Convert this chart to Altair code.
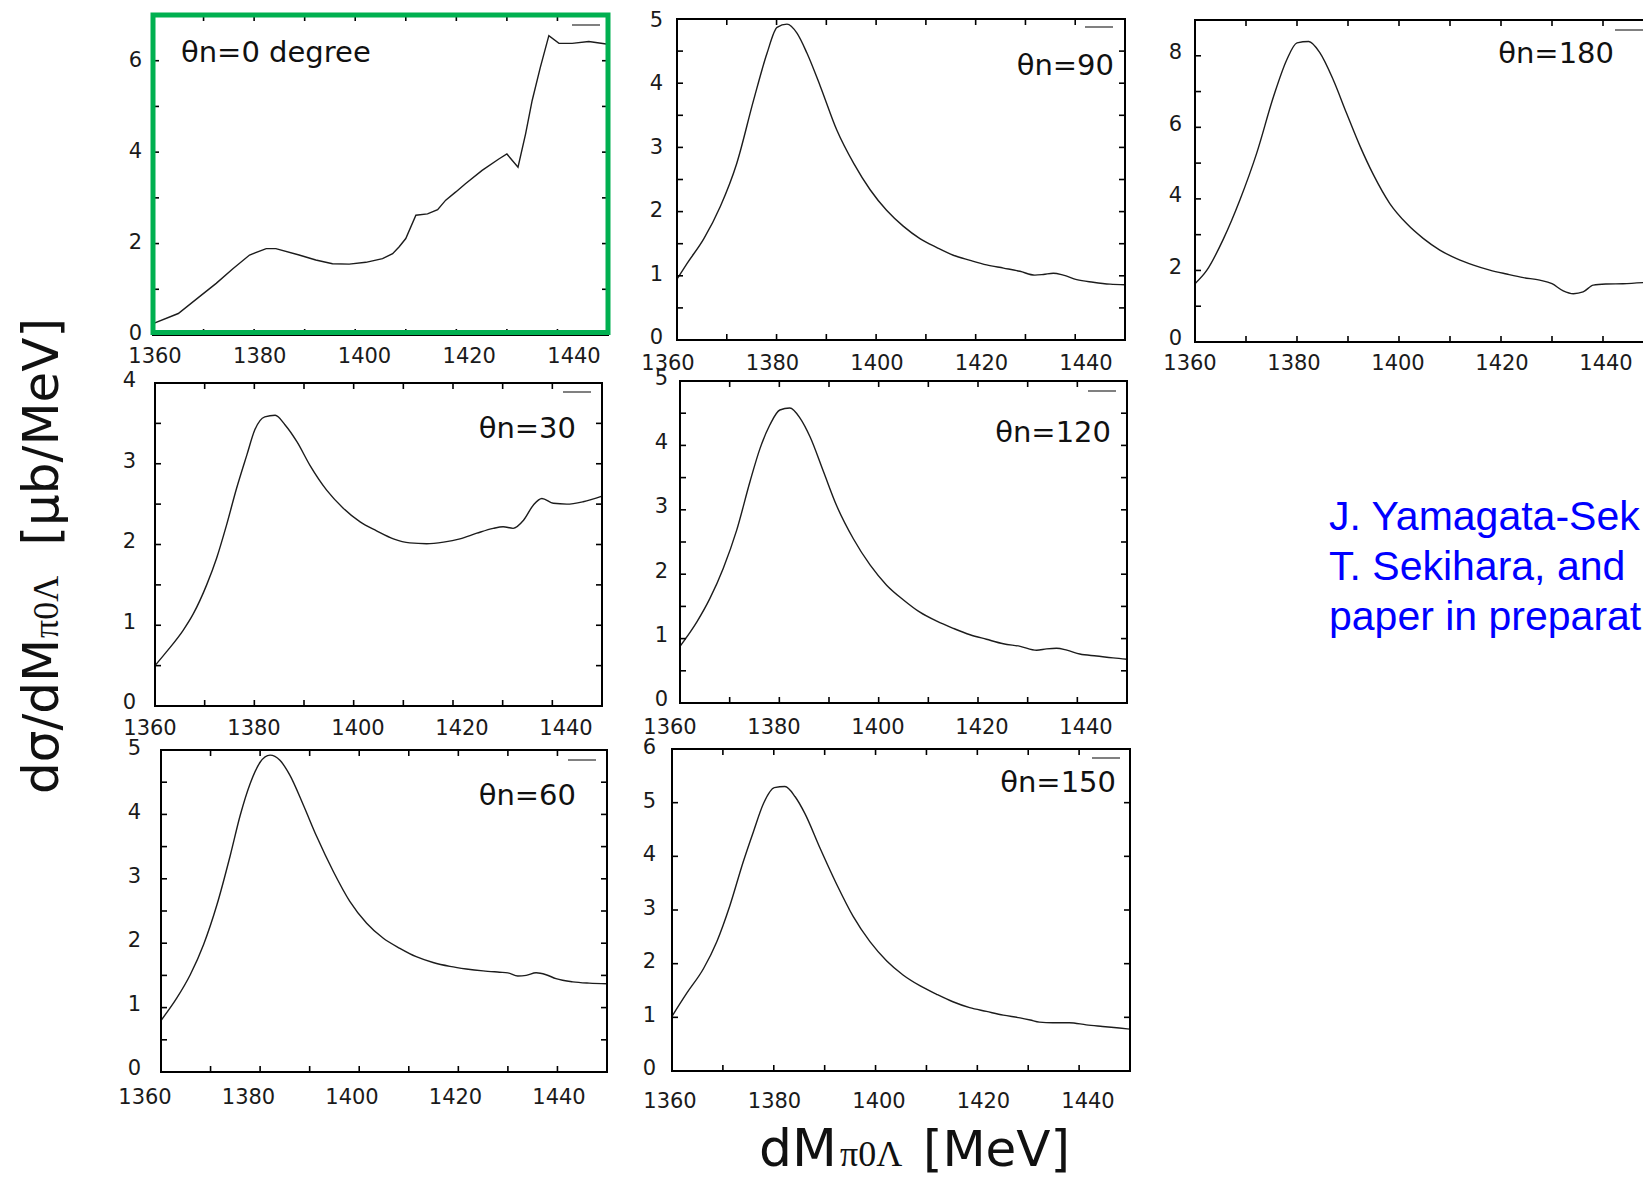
import altair as alt
import pandas as pd

# ---------------- data: invariant mass M [MeV] and dsigma/dM [ub/MeV] ----------------
M_0 = [1360, 1365, 1369.2, 1372.5, 1375.8, 1379.1, 1382.4, 1384.3, 1388.9, 1392.2, 1395.5, 1398.8,
       1402.1, 1405.4, 1407.4, 1408.7, 1410, 1412, 1414.3, 1416.3, 1417.9, 1419.9, 1421.8, 1425.1,
       1428.4, 1430, 1432.2, 1433.7, 1435, 1436.6, 1438.3, 1440.3, 1442.9, 1446.2, 1450]
S_0 = [0.25, 0.47, 0.84, 1.13, 1.45, 1.75, 1.89, 1.89, 1.75, 1.64, 1.56, 1.55,
       1.59, 1.67, 1.78, 1.93, 2.11, 2.62, 2.65, 2.74, 2.95, 3.13, 3.31, 3.60,
       3.85, 3.96, 3.67, 4.40, 5.13, 5.85, 6.55, 6.38, 6.38, 6.42, 6.36]

M_90 = [1360, 1362, 1365.4, 1368.7, 1372, 1375.4, 1378.1, 1380.1, 1382.1, 1384.1, 1386.1, 1388.8,
        1392.1, 1395.5, 1398.8, 1402.1, 1405.5, 1408.8, 1412.2, 1415.5, 1418.9, 1422.2, 1425.6,
        1428.9, 1431.9, 1433.6, 1435.6, 1437.6, 1440.3, 1443.6, 1447, 1450]
S_90 = [0.95, 1.19, 1.58, 2.08, 2.75, 3.74, 4.47, 4.87, 4.92, 4.78, 4.47, 3.95,
        3.27, 2.75, 2.34, 2.02, 1.77, 1.58, 1.44, 1.32, 1.24, 1.17, 1.12,
        1.07, 1.01, 1.02, 1.04, 1.01, 0.94, 0.90, 0.87, 0.86]

M_180 = [1360, 1362.3, 1365.6, 1368.8, 1372.1, 1375.4, 1378, 1380, 1382.3, 1384.5, 1387.1, 1389.7,
         1392.4, 1395, 1398.2, 1401.5, 1404.8, 1408, 1411.3, 1414.6, 1417.8, 1421.1, 1424.4,
         1427.6, 1430, 1432.2, 1434.2, 1436.1, 1438.1, 1440.7, 1443.9, 1450]
S_180 = [1.63, 2.00, 2.89, 3.97, 5.28, 6.86, 7.89, 8.36, 8.40, 8.08, 7.33, 6.40,
         5.46, 4.67, 3.87, 3.31, 2.89, 2.57, 2.33, 2.15, 2.01, 1.90, 1.80,
         1.73, 1.63, 1.43, 1.35, 1.40, 1.59, 1.62, 1.63, 1.68]

M_30 = [1360, 1362.3, 1365.7, 1367.7, 1370.4, 1372.4, 1374.4, 1376.4, 1378.5, 1380.1, 1382.1, 1384.2,
        1386.2, 1388.6, 1391.2, 1394.6, 1397.9, 1401.3, 1404.6, 1408, 1411.3, 1414.7, 1418.1,
        1421.4, 1424.8, 1428.1, 1430.1, 1432.1, 1434.2, 1436.2, 1437.9, 1440.2, 1442.9, 1446.2, 1450]
S_30 = [0.50, 0.67, 0.94, 1.14, 1.50, 1.83, 2.24, 2.69, 3.11, 3.42, 3.58, 3.60,
        3.48, 3.27, 2.98, 2.67, 2.45, 2.28, 2.17, 2.07, 2.02, 2.01, 2.03,
        2.07, 2.14, 2.20, 2.22, 2.20, 2.30, 2.49, 2.57, 2.51, 2.50, 2.53, 2.60]

M_120 = [1360, 1363.4, 1366, 1368.7, 1371.4, 1374.1, 1376.1, 1378.1, 1380.1, 1382.1, 1384.2, 1386.2,
         1388.9, 1391.5, 1394.9, 1398.3, 1401.6, 1405, 1408.3, 1411.7, 1415, 1418.4, 1421.7,
         1425.1, 1428.5, 1431.8, 1433.8, 1435.8, 1437.9, 1440.5, 1443.9, 1447.2, 1450]
S_120 = [0.88, 1.26, 1.62, 2.09, 2.68, 3.44, 3.95, 4.32, 4.55, 4.58, 4.42, 4.13,
         3.59, 3.07, 2.55, 2.14, 1.83, 1.60, 1.41, 1.27, 1.16, 1.06, 0.99,
         0.92, 0.88, 0.82, 0.84, 0.85, 0.82, 0.76, 0.73, 0.70, 0.68]

M_60 = [1360, 1363.2, 1365.9, 1368.6, 1371.3, 1374, 1376, 1378, 1380, 1382, 1384, 1386,
        1388.7, 1391.4, 1394.8, 1398.1, 1401.5, 1404.8, 1408.2, 1411.5, 1414.9, 1418.3, 1421.6,
        1425, 1428.3, 1430, 1432, 1433.7, 1435.7, 1437.7, 1439.7, 1443.1, 1446.4, 1450]
S_60 = [0.80, 1.15, 1.51, 1.98, 2.60, 3.37, 3.99, 4.48, 4.81, 4.92, 4.84, 4.61,
        4.15, 3.66, 3.11, 2.65, 2.31, 2.08, 1.92, 1.79, 1.70, 1.64, 1.60,
        1.57, 1.55, 1.54, 1.49, 1.50, 1.54, 1.51, 1.45, 1.40, 1.38, 1.37]

M_150 = [1360, 1362.9, 1366.2, 1368.8, 1371.4, 1374, 1376, 1378, 1380.1, 1382.2, 1384.2, 1386.1,
         1389.1, 1392.4, 1395.6, 1398.9, 1402.2, 1405.4, 1408.7, 1412, 1415.2, 1418.5, 1421.8,
         1425.1, 1428.4, 1430.4, 1432.2, 1434.8, 1438.1, 1441.4, 1444.6, 1447.9, 1450]
S_150 = [1.02, 1.45, 1.91, 2.41, 3.09, 3.90, 4.46, 4.99, 5.28, 5.30, 5.11, 4.80,
         4.15, 3.47, 2.88, 2.41, 2.05, 1.79, 1.59, 1.43, 1.29, 1.18, 1.11,
         1.04, 0.99, 0.95, 0.91, 0.90, 0.90, 0.86, 0.83, 0.80, 0.78]

X_DOMAIN = [1360, 1450]
X_LABELS = [1360, 1380, 1400, 1420, 1440]
X_TICKS = [1370, 1380, 1390, 1400, 1410, 1420, 1430, 1440]

LABELS = ["θn=0 degree", "θn=90", "θn=180", "θn=30", "θn=120", "θn=60", "θn=150"]
REF_LINES = ["J. Yamagata-Sek", "T. Sekihara, and", "paper in preparat"]

# ---------------- layout (page pixels) ----------------
W, H, MARGIN = 1635, 1169, 8
FONT = "DejaVu Sans"
INK = "#1a1a1a"
LAB_SIZE = 21

# box = frame (left, right, bottom, top); xl = label centres for 1360 / 1440;
# yl = label centres for 0 / top label; xpad / ypad = label distance from frame
PANELS = [
    dict(m=M_0, s=S_0, ymax=7, ylab=[0, 2, 4, 6], ytk=[1, 2, 3, 4, 5, 6],
         box=(153, 608, 335, 15), xl=(155, 574), yl=(334, 61), xpad=11, ypad=11,
         label=LABELS[0], align="left", lab_xy=(181, 62), key=(572, 600, 25),
         interp="linear", green=True),
    dict(m=M_90, s=S_90, ymax=5, ylab=[0, 1, 2, 3, 4, 5], ytk=[0.5, 1, 1.5, 2, 2.5, 3, 3.5, 4, 4.5],
         box=(677, 1125, 340, 19), xl=(668, 1086), yl=(338, 21), xpad=13, ypad=14,
         label=LABELS[1], align="right", lab_xy=(1114, 75), key=(1085, 1113, 27),
         interp="monotone", green=False),
    dict(m=M_180, s=S_180, ymax=9, ylab=[0, 2, 4, 6, 8], ytk=[1, 2, 3, 4, 5, 6, 7, 8],
         box=(1195, 1654, 342, 20), xl=(1190, 1606), yl=(339, 53), xpad=11, ypad=13,
         label=LABELS[2], align="right", lab_xy=(1614, 63), key=(1615, 1643, 30),
         interp="monotone", green=False),
    dict(m=M_30, s=S_30, ymax=4, ylab=[0, 1, 2, 3, 4], ytk=[0.5, 1, 1.5, 2, 2.5, 3, 3.5],
         box=(155, 602, 706, 383), xl=(150, 566), yl=(703, 381), xpad=12, ypad=19,
         label=LABELS[3], align="right", lab_xy=(576, 438), key=(563, 591, 392),
         interp="monotone", green=False),
    dict(m=M_120, s=S_120, ymax=5, ylab=[0, 1, 2, 3, 4, 5], ytk=[0.5, 1, 1.5, 2, 2.5, 3, 3.5, 4, 4.5],
         box=(680, 1127, 703, 381), xl=(670, 1086), yl=(700, 379), xpad=14, ypad=12,
         label=LABELS[4], align="right", lab_xy=(1111, 442), key=(1088, 1116, 391),
         interp="monotone", green=False),
    dict(m=M_60, s=S_60, ymax=5, ylab=[0, 1, 2, 3, 4, 5], ytk=[0.5, 1, 1.5, 2, 2.5, 3, 3.5, 4, 4.5],
         box=(161, 607, 1072, 750), xl=(145, 559), yl=(1069, 749), xpad=15, ypad=20,
         label=LABELS[5], align="right", lab_xy=(576, 805), key=(568, 596, 760),
         interp="monotone", green=False),
    dict(m=M_150, s=S_150, ymax=6, ylab=[0, 1, 2, 3, 4, 5, 6], ytk=[1, 2, 3, 4, 5],
         box=(672, 1130, 1071, 749), xl=(670, 1088), yl=(1069, 748), xpad=20, ypad=16,
         label=LABELS[6], align="right", lab_xy=(1116, 792), key=(1092, 1120, 758),
         interp="monotone", green=False),
]

ONE = pd.DataFrame({"k": [0]})


def lin(domain, rng):
    return alt.Scale(domain=domain, range=[v - MARGIN for v in rng], nice=False, zero=False)


def build_panel(p):
    x0, x1, y0, y1 = p["box"]
    xs = lin(X_DOMAIN, (x0, x1))
    ys = lin([0, p["ymax"]], (y0, y1))

    def X(f):
        return alt.X(f, scale=xs, axis=None)

    def Y(f):
        return alt.Y(f, scale=ys, axis=None)

    curve = alt.Chart(pd.DataFrame({"m": p["m"], "s": p["s"]})).mark_line(
        color="#1c1c1c", strokeWidth=1.4, interpolate=p["interp"]
    ).encode(x=X("m:Q"), y=Y("s:Q"))

    fr = pd.DataFrame({"a": [X_DOMAIN[0]], "b": [X_DOMAIN[1]], "c": [0], "d": [p["ymax"]]})
    frame = alt.Chart(fr).mark_rect(fillOpacity=0, stroke="#000", strokeWidth=2).encode(
        x=X("a:Q"), x2="b", y=Y("c:Q"), y2="d")

    xt = pd.DataFrame({"t": X_TICKS, "lo": 0, "hi": p["ymax"]})
    yt = pd.DataFrame({"t": p["ytk"], "l": X_DOMAIN[0], "r": X_DOMAIN[1]})
    tk = dict(color="#000", strokeWidth=1.6)
    bottom = alt.Chart(xt).mark_rule(y2Offset=-6, **tk).encode(x=X("t:Q"), y=Y("lo:Q"), y2="lo")
    top = alt.Chart(xt).mark_rule(y2Offset=6, **tk).encode(x=X("t:Q"), y=Y("hi:Q"), y2="hi")
    left = alt.Chart(yt).mark_rule(x2Offset=6, **tk).encode(y=Y("t:Q"), x=X("l:Q"), x2="l")
    right = alt.Chart(yt).mark_rule(x2Offset=-6, **tk).encode(y=Y("t:Q"), x=X("r:Q"), x2="r")

    ann = alt.Chart(ONE).mark_text(
        text=p["label"], align=p["align"], baseline="alphabetic", font=FONT, fontSize=29,
        color="#111"
    ).encode(x=alt.value(p["lab_xy"][0] - MARGIN), y=alt.value(p["lab_xy"][1] - MARGIN))
    k0, k1, ky = p["key"]
    key = alt.Chart(ONE).mark_rule(color="#808080", strokeWidth=2).encode(
        x=alt.value(k0 - MARGIN), x2=alt.value(k1 - MARGIN), y=alt.value(ky - MARGIN))
    layers = [curve, frame, bottom, top, left, right, ann, key]
    if p["green"]:
        green = alt.Chart(fr).mark_rect(fillOpacity=0, stroke="#00B050", strokeWidth=5,
                                        yOffset=-2.5).encode(
            x=X("a:Q"), x2="b", y=Y("c:Q"), y2="d")
        layers.append(green)
    panel = alt.layer(*layers)

    # tick labels (own label scales so they sit where the reference prints them)
    lxs = lin([X_LABELS[0], X_LABELS[-1]], p["xl"])
    lys = lin([p["ylab"][0], p["ylab"][-1]], p["yl"])
    xlab = alt.Chart(pd.DataFrame({"t": X_LABELS})).mark_text(
        baseline="top", align="center", font=FONT, fontSize=LAB_SIZE, color=INK
    ).encode(x=alt.X("t:Q", scale=lxs, axis=None), y=alt.value(y0 + p["xpad"] - MARGIN),
             text=alt.Text("t:Q", format="d"))
    ylab = alt.Chart(pd.DataFrame({"t": p["ylab"]})).mark_text(
        baseline="middle", align="right", font=FONT, fontSize=LAB_SIZE, color=INK
    ).encode(y=alt.Y("t:Q", scale=lys, axis=None), x=alt.value(x0 - p["ypad"] - MARGIN),
             text=alt.Text("t:Q", format="d"))
    return [panel, xlab, ylab]


def text(s, x, y, **kw):
    return alt.Chart(ONE).mark_text(text=s, baseline="alphabetic", **kw).encode(
        x=alt.value(x - MARGIN), y=alt.value(y - MARGIN))


titles = [
    # x-axis title  dM_{pi0 Lambda} [MeV]
    text("dM", 759, 1166, align="left", font=FONT, fontSize=52, color="#111"),
    text("π0Λ", 840, 1166, align="left", font="Liberation Serif", fontSize=36, color="#111"),
    text("[MeV]", 1070, 1166, align="right", font=FONT, fontSize=50, color="#111"),
    # y-axis title  dsigma/dM_{pi0 Lambda} [ub/MeV]
    text("dσ/dM", 58, 794, align="left", angle=270, font=FONT, fontSize=50, color="#111"),
    text("π0Λ", 58, 638, align="left", angle=270, font="Liberation Serif", fontSize=36, color="#111"),
    text("[μb/MeV]", 58, 318, align="right", angle=270, font=FONT, fontSize=50, color="#111"),
]
ref_txt = [
    text(line, 1329, base, align="left", font="Liberation Sans", fontSize=41, color="#0000FF")
    for line, base in zip(REF_LINES, (530, 580, 630))
]

layers = []
for p in PANELS:
    layers.extend(build_panel(p))

chart = (
    alt.layer(*layers, *titles, *ref_txt)
    .resolve_scale(x="independent", y="independent")
    .properties(width=W, height=H, autosize=alt.AutoSizeParams(type="none"), padding=0,
                background="white")
    .configure_view(strokeWidth=0)
)

chart.save("out.html", embed_options={"renderer": "svg", "actions": False})
